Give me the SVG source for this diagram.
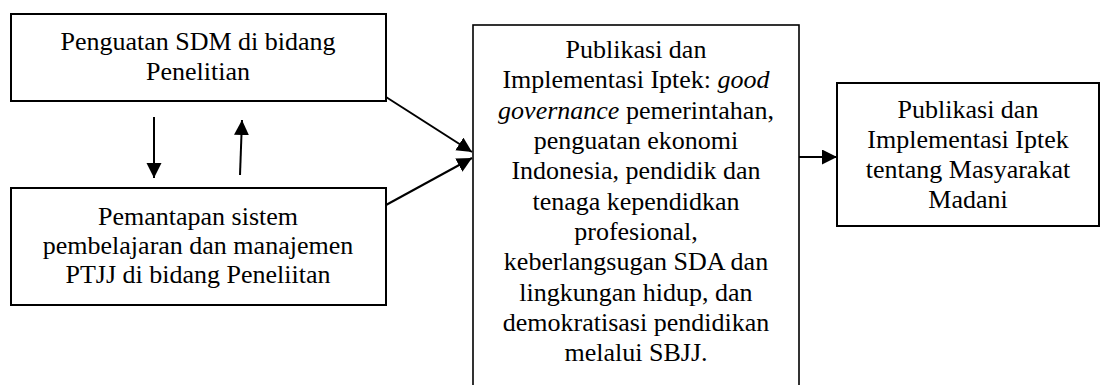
<svg xmlns="http://www.w3.org/2000/svg" width="1102" height="385" viewBox="0 0 1102 385">
<style>
.box{fill:#fff;stroke:#000;stroke-width:2}
.c{stroke:#000;stroke-width:2;fill:none;marker-end:url(#ah)}
</style>
<defs>
<marker id="ah" markerUnits="userSpaceOnUse" markerWidth="16" markerHeight="16" refX="15" refY="7.5" orient="auto">
<path d="M0,0 L15,7.5 L0,15 Z" fill="#000"/>
</marker>
</defs>
<rect width="1102" height="385" fill="#fff"/>
<g id="n1" font-family="Liberation Serif" font-size="26" text-anchor="middle" fill="#000">
<rect class="box" x="11" y="14" width="375" height="87"/>
<text x="198" y="50">Penguatan SDM di bidang</text>
<text x="198" y="80">Penelitian</text>
</g>
<g id="n2" font-family="Liberation Serif" font-size="26" text-anchor="middle" fill="#000">
<rect class="box" x="11" y="188" width="375" height="117"/>
<text x="198" y="225">Pemantapan sistem</text>
<text x="198" y="254">pembelajaran dan manajemen</text>
<text x="198" y="283">PTJJ di bidang Peneliitan</text>
</g>
<g id="n3" font-family="Liberation Serif" font-size="26" text-anchor="middle" fill="#000">
<rect class="box" x="473" y="25" width="326" height="380" style="stroke-width:1.6"/>
<text x="636" y="58">Publikasi dan</text>
<text x="636" y="88">Implementasi Iptek: <tspan font-style="italic">good</tspan></text>
<text x="636" y="119"><tspan font-style="italic">governance</tspan> pemerintahan,</text>
<text x="636" y="149">penguatan ekonomi</text>
<text x="636" y="179">Indonesia, pendidik dan</text>
<text x="636" y="210">tenaga kependidkan</text>
<text x="636" y="240">profesional,</text>
<text x="636" y="270">keberlangsugan SDA dan</text>
<text x="636" y="301">lingkungan hidup, dan</text>
<text x="636" y="331">demokratisasi pendidikan</text>
<text x="636" y="361">melalui SBJJ.</text>
</g>
<g id="n4" font-family="Liberation Serif" font-size="26" text-anchor="middle" fill="#000">
<rect class="box" x="837" y="83" width="262" height="143"/>
<text x="968" y="118">Publikasi dan</text>
<text x="968" y="148">Implementasi Iptek</text>
<text x="968" y="178">tentang Masyarakat</text>
<text x="968" y="208">Madani</text>
</g>
<g id="connectors">
<line class="c" x1="154" y1="117" x2="154" y2="178"/>
<line class="c" x1="240" y1="175" x2="242" y2="120"/>
<line class="c" x1="386" y1="97" x2="472" y2="152"/>
<line class="c" x1="386" y1="205" x2="472" y2="158"/>
<line class="c" x1="799" y1="157" x2="837" y2="157"/>
</g>
</svg>
